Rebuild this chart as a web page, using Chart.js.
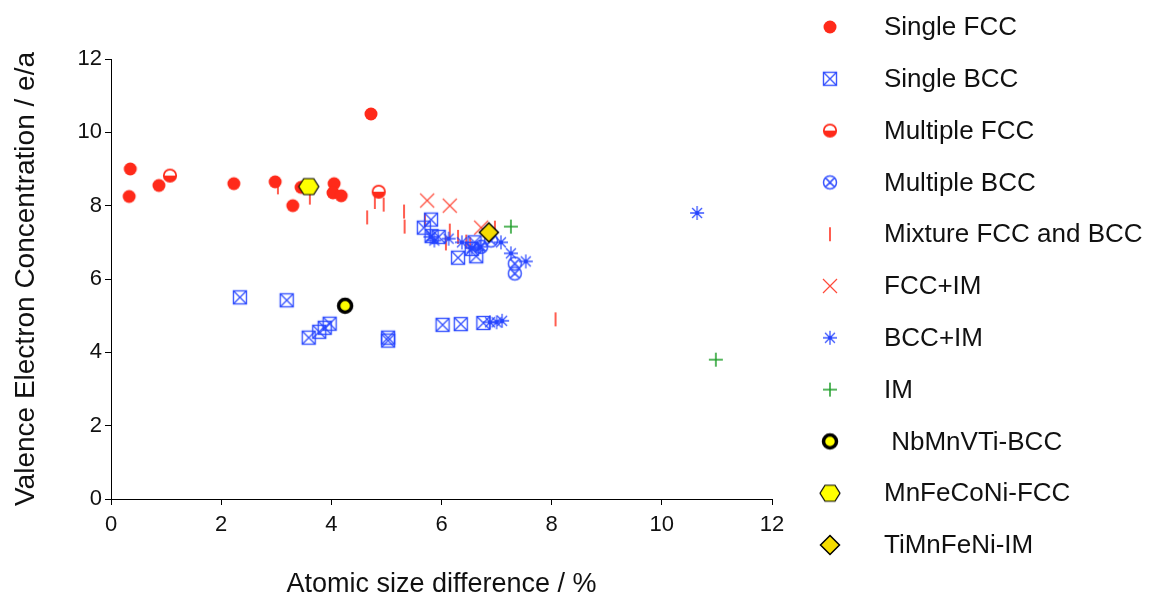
<html>

<head>
  <script src="https://cdn.jsdelivr.net/npm/chart.js"></script>
  <title>VEC vs atomic size difference</title>
</head>

<body style="margin:0;background:#fff;">

  <div style="position:fixed;left:0;top:0;width:1150px;height:601px;">
    <canvas id="myChart"></canvas>
  </div>

  <script>
    // data: [atomic size difference %, VEC]
    const singleFCC = [[0.35, 9.0], [0.33, 8.25], [0.87, 8.55], [2.23, 8.6], [2.98, 8.65], [3.3, 8.0],
      [3.45, 8.5], [4.05, 8.6], [4.03, 8.35], [4.18, 8.27], [4.72, 10.5]];
    const singleBCC = [[2.34, 5.5], [3.19, 5.42], [3.59, 4.4], [3.78, 4.56], [3.88, 4.67], [3.97, 4.78],
      [5.03, 4.4], [5.03, 4.32], [6.02, 4.75], [6.35, 4.77], [6.76, 4.8], [5.81, 7.62], [5.68, 7.4],
      [5.82, 7.17], [5.95, 7.15], [6.3, 6.58], [6.6, 7.0], [6.63, 6.62], [6.55, 6.82]];
    const multipleFCC = [[1.07, 8.82], [4.86, 8.38]];
    const multipleBCC = [[7.33, 6.42], [7.33, 6.15], [6.72, 6.88], [6.9, 7.05]];
    const mixture = [[3.03, 8.5], [3.61, 8.22], [4.65, 7.68], [4.79, 8.1], [4.95, 8.03], [5.32, 7.84],
      [5.33, 7.43], [5.7, 7.6], [6.08, 6.97], [6.15, 7.32], [6.3, 7.15], [6.45, 7.02], [6.52, 6.95],
      [6.97, 7.4], [8.07, 4.9]];
    const fccIM = [[5.74, 8.14], [6.15, 8.0], [6.72, 7.4]];
    const bccIM = [[5.8, 7.15], [5.87, 7.05], [6.13, 7.1], [6.37, 7.0], [6.55, 6.85], [6.7, 6.88],
      [7.08, 7.0], [7.26, 6.7], [7.53, 6.48], [10.64, 7.8], [6.88, 4.82], [7.0, 4.82], [7.1, 4.86]];
    const imOnly = [[7.26, 7.43], [10.98, 3.8]];
    const nbMnVTi = [[4.25, 5.27]];
    const mnFeCoNi = [[3.59, 8.52]];
    const tiMnFeNi = [[6.86, 7.27]];

    const xTicks = [0, 2, 4, 6, 8, 10, 12];
    const yTicks = [0, 2, 4, 6, 8, 10, 12];

    const RED = "#ff2a1a";
    const BLUE = "rgba(36, 66, 255, 0.9)";
    const GREEN = "#1f9e2a";
    const FONT = '"Liberation Sans", Arial, sans-serif';

    Chart.defaults.font.family = FONT;

    // small canvases used as point styles (same ones in the legend)
    function marker(w, h, draw) {
      const c = document.createElement("canvas");
      c.width = w;
      c.height = h;
      const g = c.getContext("2d");
      g.translate(w / 2, h / 2);
      draw(g);
      return c;
    }

    const mkSingleFCC = marker(16, 16, (g) => {
      g.fillStyle = RED;
      g.beginPath();
      g.arc(0, 0, 6.5, 0, Math.PI * 2);
      g.fill();
    });
    const mkSingleBCC = marker(18, 18, (g) => {
      g.strokeStyle = BLUE;
      g.lineWidth = 1.4;
      g.strokeRect(-6.5, -6.5, 13, 13);
      g.beginPath();
      g.moveTo(-6.5, -6.5); g.lineTo(6.5, 6.5);
      g.moveTo(6.5, -6.5); g.lineTo(-6.5, 6.5);
      g.stroke();
    });
    const mkMultipleFCC = marker(18, 18, (g) => {
      g.fillStyle = "#fff";
      g.beginPath();
      g.arc(0, 0, 6.2, 0, Math.PI * 2);
      g.fill();
      g.fillStyle = RED;
      g.beginPath();
      g.arc(0, 0, 6.2, 0, Math.PI);
      g.closePath();
      g.fill();
      g.strokeStyle = RED;
      g.lineWidth = 1.8;
      g.beginPath();
      g.arc(0, 0, 6.2, 0, Math.PI * 2);
      g.stroke();
    });
    const mkMultipleBCC = marker(18, 18, (g) => {
      g.strokeStyle = BLUE;
      g.lineWidth = 1.5;
      g.beginPath();
      g.arc(0, 0, 6.5, 0, Math.PI * 2);
      g.moveTo(-4.6, -4.6); g.lineTo(4.6, 4.6);
      g.moveTo(4.6, -4.6); g.lineTo(-4.6, 4.6);
      g.stroke();
    });
    const mkMixture = marker(6, 18, (g) => {
      g.strokeStyle = "rgba(255, 42, 26, 0.9)";
      g.lineWidth = 1.7;
      g.beginPath();
      g.moveTo(0, -7); g.lineTo(0, 7);
      g.stroke();
    });
    const mkFccIM = marker(18, 18, (g) => {
      g.strokeStyle = "#ff4a3a";
      g.lineWidth = 1.2;
      g.beginPath();
      g.moveTo(-7, -7); g.lineTo(7, 7);
      g.moveTo(7, -7); g.lineTo(-7, 7);
      g.stroke();
    });
    const mkBccIM = marker(18, 18, (g) => {
      g.strokeStyle = BLUE;
      g.lineWidth = 1.3;
      g.beginPath();
      for (let a = 0; a < 4; a++) {
        const t = (a * Math.PI) / 4;
        g.moveTo(-7 * Math.cos(t), -7 * Math.sin(t));
        g.lineTo(7 * Math.cos(t), 7 * Math.sin(t));
      }
      g.stroke();
      g.fillStyle = BLUE;
      g.beginPath();
      g.arc(0, 0, 2, 0, Math.PI * 2);
      g.fill();
    });
    const mkIM = marker(18, 18, (g) => {
      g.strokeStyle = GREEN;
      g.lineWidth = 1.5;
      g.beginPath();
      g.moveTo(-7, 0); g.lineTo(7, 0);
      g.moveTo(0, -7); g.lineTo(0, 7);
      g.stroke();
    });
    const mkNbMnVTi = marker(22, 22, (g) => {
      g.fillStyle = "#ffff00";
      g.strokeStyle = "#000";
      g.lineWidth = 3.5;
      g.beginPath();
      g.arc(0, 0, 6.5, 0, Math.PI * 2);
      g.fill();
      g.stroke();
    });
    const mkMnFeCoNi = marker(26, 22, (g) => {
      g.fillStyle = "#ffff00";
      g.strokeStyle = "#000";
      g.lineWidth = 1.2;
      g.beginPath();
      g.moveTo(-10, 0); g.lineTo(-5, -8); g.lineTo(5, -8);
      g.lineTo(10, 0); g.lineTo(5, 8); g.lineTo(-5, 8);
      g.closePath();
      g.fill();
      g.stroke();
    });
    const mkTiMnFeNi = marker(24, 24, (g) => {
      g.fillStyle = "#f5dc00";
      g.strokeStyle = "#000";
      g.lineWidth = 1.5;
      g.beginPath();
      g.moveTo(0, -9.5); g.lineTo(9.5, 0); g.lineTo(0, 9.5); g.lineTo(-9.5, 0);
      g.closePath();
      g.fill();
      g.stroke();
    });

    function pts(arr) {
      return arr.map((p) => ({ x: p[0], y: p[1] }));
    }

    function series(label, arr, style, order) {
      return {
        label: label,
        data: pts(arr),
        pointStyle: style,
        pointRadius: 7,
        pointHoverRadius: 7,
        order: order,
      };
    }

    // datasets kept in legend order, "order" sets what is drawn on top
    const datasets = [
      series("Single FCC", singleFCC, mkSingleFCC, 4),
      series("Single BCC", singleBCC, mkSingleBCC, 6),
      series("Multiple FCC", multipleFCC, mkMultipleFCC, 3),
      series("Multiple BCC", multipleBCC, mkMultipleBCC, 7),
      series("Mixture FCC and BCC", mixture, mkMixture, 9),
      series("FCC+IM", fccIM, mkFccIM, 8),
      series("BCC+IM", bccIM, mkBccIM, 5),
      series("IM", imOnly, mkIM, 5),
      series(" NbMnVTi-BCC", nbMnVTi, mkNbMnVTi, 0),
      series("MnFeCoNi-FCC", mnFeCoNi, mkMnFeCoNi, 0),
      series("TiMnFeNi-IM", tiMnFeNi, mkTiMnFeNi, 0),
    ];

    // legend on the right, one marker + name per row
    const sideLegend = {
      id: "sideLegend",
      afterDraw: (chart) => {
        const { ctx } = chart;
        const markX = chart.chartArea.right + 58;
        const textX = markX + 54;
        ctx.save();
        ctx.font = "26px " + FONT;
        ctx.fillStyle = "#111";
        ctx.textBaseline = "middle";
        ctx.textAlign = "left";
        chart.data.datasets.forEach((ds, i) => {
          const y = 27 + i * 51.8;
          const img = ds.pointStyle;
          ctx.drawImage(img, markX - img.width / 2, y - img.height / 2);
          ctx.fillText(ds.label, textX, y + 1);
        });
        ctx.restore();
      },
    };

    const ctx1 = document.getElementById("myChart").getContext("2d");
    const myChart1 = new Chart(ctx1, {
      type: "scatter",
      data: { datasets: datasets },
      options: {
        responsive: true,
        maintainAspectRatio: false,
        animation: false,
        layout: {
          padding: { top: 59, right: 378, left: 0, bottom: 0 },
        },
        scales: {
          x: {
            type: "linear",
            min: 0,
            max: 12,
            afterBuildTicks: (axis) => {
              axis.ticks = xTicks.map((v) => ({ value: v }));
            },
            afterFit: (axis) => {
              axis.height = 102;
            },
            border: { color: "#000", width: 1 },
            grid: { drawOnChartArea: false, tickLength: 6, color: "#000" },
            ticks: { color: "#111", padding: 7, font: { size: 22 } },
            title: {
              display: true,
              text: "Atomic size difference / %",
              color: "#111",
              font: { size: 27 },
              padding: { top: 0, bottom: 0 },
            },
          },
          y: {
            type: "linear",
            min: 0,
            max: 12,
            afterBuildTicks: (axis) => {
              axis.ticks = yTicks.map((v) => ({ value: v }));
            },
            afterFit: (axis) => {
              axis.width = 111;
            },
            border: { color: "#000", width: 1 },
            grid: { drawOnChartArea: false, tickLength: 6, color: "#000" },
            ticks: { color: "#111", padding: 3, font: { size: 22 } },
            title: {
              display: true,
              text: "Valence Electron Concentration / e/a",
              color: "#111",
              font: { size: 28 },
              padding: { top: 9, bottom: 0 },
            },
          },
        },
        plugins: {
          legend: { display: false },
          tooltip: { enabled: false },
        },
      },
      plugins: [sideLegend],
    });
  </script>
</body>

</html>
